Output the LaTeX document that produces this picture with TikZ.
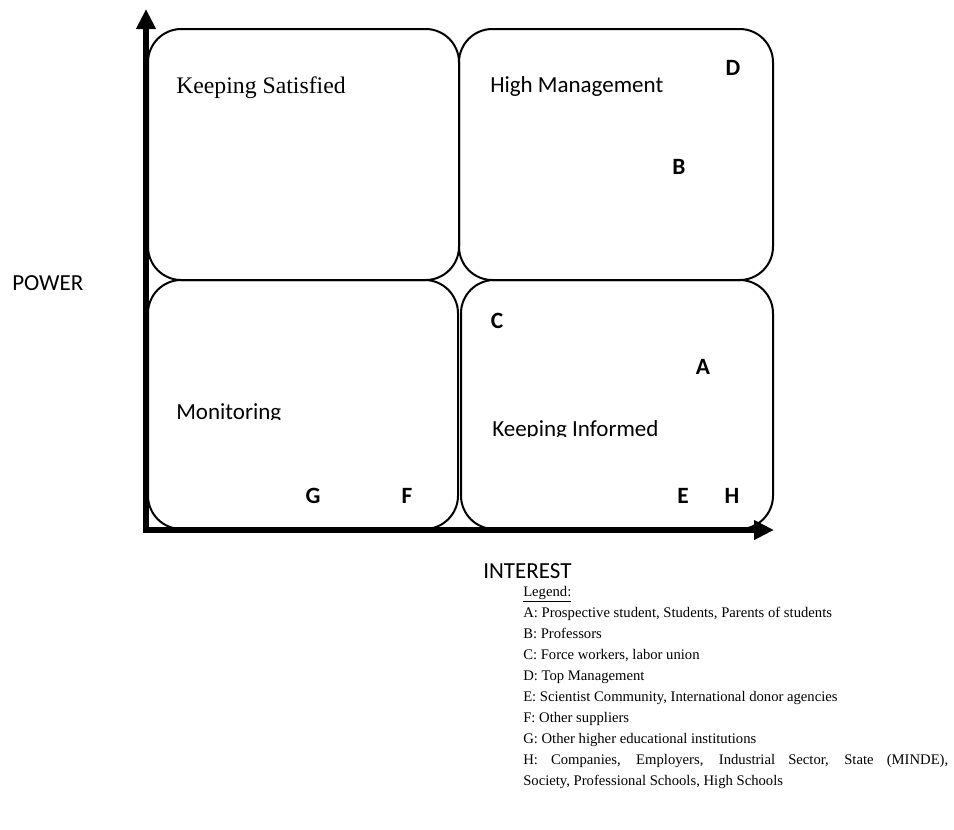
\documentclass[tikz,border=0pt]{standalone}
\usepackage{fontspec}
\setmainfont{Liberation Serif}
\newfontfamily\calfont{Carlito}
\usetikzlibrary{arrows.meta}
\begin{document}
\begin{tikzpicture}[x=0.75pt,y=-0.75pt,
  quad/.style={draw=black,line width=1.5pt,rounded corners=25pt},
  axis/.style={line width=4.5pt,-{Triangle[length=15pt,width=14pt]}},
  region/.style={inner sep=0pt,anchor=base west,font=\calfont\fontsize{17.25}{20}\selectfont},
  serifregion/.style={inner sep=0pt,anchor=base west,font=\fontsize{17.8}{20}\selectfont},
  who/.style={inner sep=0pt,font=\calfont\bfseries\fontsize{17.5}{20}\selectfont},
  legend/.style={inner sep=0pt,anchor=base west,font=\fontsize{11}{15.75}\selectfont}]
\useasboundingbox (0,0) rectangle (954,829);

% four quadrants
\draw[quad] (148,29) rectangle (459,280);
\draw[quad] (459,29) rectangle (773,280);
\draw[quad] (148,280) rectangle (458,529);
\draw[quad] (461,280) rectangle (773,529);

% axes
\coordinate (origin) at (146,533);
\coordinate (ytip) at (146,9);
\coordinate (xorigin) at (143,530);
\coordinate (xtip) at (774,530);
\draw[axis] (origin) -- (ytip);
\draw[axis] (xorigin) -- (xtip);

% quadrant titles
\node[serifregion] (sat) at (176,93) {Keeping Satisfied};
\node[region] (high) at (490,92) {High Management};
\begin{scope}
  \clip (160,393) rectangle (450,419);
  \node[region] (mon) at (176,419) {Monitoring};
\end{scope}
\begin{scope}
  \clip (470,405) rectangle (760,436);
  \node[region] (inf) at (492,436) {Keeping Informed};
\end{scope}

% axis titles
\node[region] (power) at (12,290) {POWER};
\node[region] (interest) at (483,578) {INTEREST};

% stakeholders
\node[who] (D) at (733,68) {D};
\node[who] (B) at (679,167) {B};
\node[who] (C) at (497,321) {C};
\node[who] (A) at (703,367) {A};
\node[who] (G) at (313,496) {G};
\node[who] (F) at (407,496) {F};
\node[who] (E) at (683,496) {E};
\node[who] (H) at (732,496) {H};

% legend
\node[legend] (leg) at (523,596) {\underline{Legend:}};
\node[legend] (legA) at (523,617) {A: Prospective student, Students, Parents of students};
\node[legend] (legB) at (523,638) {B: Professors};
\node[legend] (legC) at (523,659) {C: Force workers, labor union};
\node[legend] (legD) at (523,680) {D: Top Management};
\node[legend] (legE) at (523,701) {E: Scientist Community, International donor agencies};
\node[legend] (legF) at (523,722) {F: Other suppliers};
\node[legend] (legG) at (523,743) {G: Other higher educational institutions};
\node[legend] (legH) at (523,764) {\makebox[318.75pt][s]{H: Companies, Employers, Industrial Sector, State (MINDE),}};
\node[legend] (legH2) at (523,785) {Society, Professional Schools, High Schools};
\end{tikzpicture}
\end{document}
